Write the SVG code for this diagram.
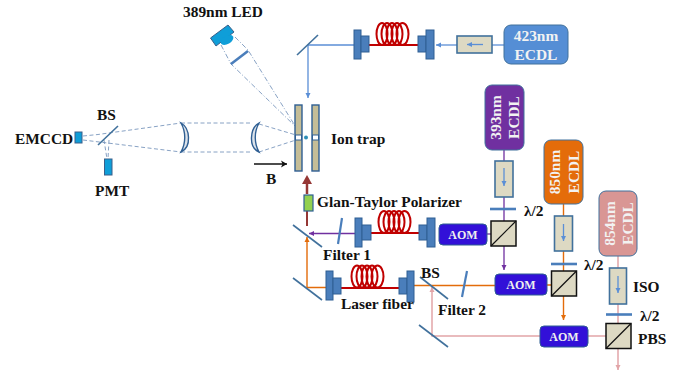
<svg xmlns="http://www.w3.org/2000/svg" width="685" height="375" viewBox="0 0 685 375">
<style>
text{font-family:"Liberation Serif","Times New Roman",serif;font-weight:bold;font-size:15.400px;fill:#111}
.aomt{fill:#eee;font-size:12px}
.ecdl{font-size:15.400px;fill:#f2f2f2}
.mir{stroke:#41719c;stroke-width:1.600;fill:none}
.blue{fill:#0f9ed8;stroke:#3a5f8a;stroke-width:1}
.big{fill:#4a7ebb;stroke:#2f5f93;stroke-width:1}
.iso{fill:#ddd9c3;stroke:#41719c;stroke-width:1.600}
.pbs{fill:#ddd9c3;stroke:#111;stroke-width:1.500}
.aom{fill:#3210d8;stroke:#2f5f93;stroke-width:1}
.plate{fill:#c4bd97;stroke:#2f5f93;stroke-width:1.400}
.lp{stroke:#4a7ebb;stroke-width:2.600;fill:none}
.dash{stroke:#7a97bd;stroke-width:.9;fill:none;stroke-dasharray:4 2.500}
.dd{stroke:#7a97bd;stroke-width:.9;fill:none;stroke-dasharray:5 2 1 2}
.coil{stroke:#c00000;stroke-width:2;fill:none}
.lens{fill:#dde3ea;stroke:#2f5f93;stroke-width:1.400}
.b{stroke:#5b8fd6;stroke-width:1.300;fill:none}
.pu{stroke:#7030a0;stroke-width:1.300;fill:none}
.or{stroke:#e36c0a;stroke-width:1.400;fill:none}
.pk{stroke:#e2a5a8;stroke-width:1.500;fill:none}
</style>
<defs>
<marker id="ab" markerUnits="userSpaceOnUse" markerWidth="6" markerHeight="6" refX="5" refY="3" orient="auto"><path d="M0 .5L5 3L0 5.500z" fill="#5b8fd6"/></marker>
<marker id="ap" markerUnits="userSpaceOnUse" markerWidth="6" markerHeight="6" refX="5" refY="3" orient="auto"><path d="M0 .5L5 3L0 5.500z" fill="#7030a0"/></marker>
<marker id="ao" markerUnits="userSpaceOnUse" markerWidth="6" markerHeight="6" refX="5" refY="3" orient="auto"><path d="M0 .5L5 3L0 5.500z" fill="#e36c0a"/></marker>
<marker id="ak" markerUnits="userSpaceOnUse" markerWidth="6" markerHeight="6" refX="5" refY="3" orient="auto"><path d="M0 .5L5 3L0 5.500z" fill="#e2a5a8"/></marker>
<marker id="an" markerUnits="userSpaceOnUse" markerWidth="7" markerHeight="8" refX="6" refY="4" orient="auto"><path d="M0 .5L6 4L0 7.500L1.500 4z" fill="#111"/></marker>
<g id="coil"><ellipse cx="6" cy="11" rx="5.500" ry="11"/><ellipse cx="11" cy="11" rx="5.500" ry="11"/><ellipse cx="16" cy="11" rx="5.500" ry="11"/><ellipse cx="21" cy="11" rx="5.500" ry="11"/><ellipse cx="26.500" cy="11" rx="6" ry="11"/></g>
</defs>

<g id="connectors">
<path class="dash" d="M83 136L98 134.500L181 123M83 140L181 152M181 123H250M181 152H250M259 124L296 135M259 152L296 140M104 140L107 159M109 140L108 159"/>
<path class="dd" d="M221 45L231 64L297 128M235 37L248 50L302 137"/>
<path class="b" d="M504 45H492"/>
<path class="b" d="M457 45H436" marker-end="url(#ab)"/>
<path class="b" d="M354 45H308V98" marker-end="url(#ab)"/>
<path class="pu" d="M504 150V161M504 197V221"/>
<path class="pu" d="M504 246V270" marker-end="url(#ap)"/>
<path class="pu" d="M487 234H491"/>
<path class="pu" d="M355 233.500H309" marker-end="url(#ap)"/>
<path class="or" d="M563.500 204V216M563.500 251V271M547 285H551M495 285.500H414"/>
<path class="or" d="M563.500 296V320" marker-end="url(#ao)"/>
<path class="or" d="M326 287.500H307V237" marker-end="url(#ao)"/>
<path class="pk" d="M618 256V268M618 304V323M606 336H588"/>
<path class="pk" d="M618 348V370" marker-end="url(#ak)"/>
<path class="pk" d="M540 336H432V287" marker-end="url(#ak)"/>
<path stroke="#953735" stroke-width="2" fill="none" d="M307 226V211"/>
<path stroke="#953735" stroke-width="2.500" fill="none" d="M307 194V183"/>
<path fill="#953735" d="M307 175L312 184H302z"/>
<path stroke="#c00000" stroke-width="2" fill="none" d="M369 45H418M371 233H419M341 288H399"/>
<path stroke="#111" stroke-width="1.500" fill="none" d="M254 164H287" marker-end="url(#an)"/>
</g>

<g id="emccd"><rect class="blue" x="75" y="132" width="7" height="11"/><text x="15" y="144">EMCCD</text></g>
<g id="bs1"><path class="mir" d="M98 145L118 126"/><text x="97" y="120">BS</text></g>
<g id="pmt"><rect class="blue" x="104.500" y="159" width="7.500" height="16"/><text x="95" y="196">PMT</text></g>
<g id="lens1"><path class="lens" d="M181 123C190 128 192 147 181 152C186 143 186 132 181 123z"/></g>
<g id="lens2"><path class="lens" d="M259 123C250 128 248 147 259 152C254 143 254 132 259 123z"/></g>
<g id="ion-trap">
<rect class="plate" x="295" y="105" width="7" height="66"/><rect class="plate" x="312" y="105" width="7" height="66"/>
<rect x="295.500" y="135" width="6" height="5" fill="#fff" stroke="#2f5f93"/><rect x="312.500" y="135" width="6" height="5" fill="#fff" stroke="#2f5f93"/>
<circle cx="306" cy="137.500" r="2" fill="#2e8fb8"/>
<text x="331" y="144">Ion trap</text>
</g>
<g id="field-b"><text x="266" y="184">B</text></g>
<g id="led">
<path class="blue" d="M210.500 38L228 25L234 32L216 46z"/>
<ellipse cx="227" cy="40" rx="7" ry="4" transform="rotate(-30 227 40)" fill="#0f9ed8"/>
<path d="M231 64L248 51" stroke="#4a7ebb" stroke-width="2.600"/>
<text x="183" y="17">389nm LED</text>
</g>
<g id="mirror-top"><path class="mir" d="M297 55L318 35"/></g>
<g id="fiber-423">
<rect class="big" x="354" y="30" width="7" height="29"/><rect class="big" x="361" y="36" width="8" height="16"/>
<use href="#coil" x="376" y="23" class="coil"/>
<rect class="big" x="418" y="36" width="8" height="16"/><rect class="big" x="426" y="30" width="8" height="29"/>
</g>
<g id="iso-423"><rect class="iso" x="457" y="36" width="35" height="17"/><path class="b" d="M483 44.500H467" marker-end="url(#ab)"/></g>
<g id="ecdl-423"><rect x="504" y="25" width="64" height="39" rx="7" fill="#558ed5" stroke="#41719c"/><text class="ecdl" x="536" y="41" text-anchor="middle">423nm</text><text class="ecdl" x="536" y="60" text-anchor="middle">ECDL</text></g>

<g id="ecdl-393"><rect x="485" y="85" width="39" height="65" rx="7" fill="#7030a0" stroke="#41719c"/><text class="ecdl" transform="translate(501 117.500) rotate(-90)" text-anchor="middle">393nm</text><text class="ecdl" transform="translate(519 117.500) rotate(-90)" text-anchor="middle">ECDL</text></g>
<g id="iso-393"><rect class="iso" x="495" y="161" width="18" height="36"/><path class="b" d="M504 168V186" marker-end="url(#ab)"/></g>
<g id="hwp-393"><path class="lp" d="M490 209H516"/><text x="524" y="216">λ/2</text></g>
<g id="pbs-393"><rect class="pbs" x="491" y="221" width="25" height="25"/><path stroke="#111" stroke-width="1.200" d="M491 246L516 221"/></g>
<g id="aom-393"><rect class="aom" x="439" y="224" width="48" height="21" rx="4"/><text class="aomt" x="463" y="238.500" text-anchor="middle">AOM</text></g>

<g id="ecdl-850"><rect x="544" y="140" width="39" height="64" rx="7" fill="#e46c0a" stroke="#41719c"/><text class="ecdl" transform="translate(560 172) rotate(-90)" text-anchor="middle">850nm</text><text class="ecdl" transform="translate(579 172) rotate(-90)" text-anchor="middle">ECDL</text></g>
<g id="iso-850"><rect class="iso" x="554.500" y="216" width="18" height="35"/><path class="b" d="M563.500 224V241" marker-end="url(#ab)"/></g>
<g id="hwp-850"><path class="lp" d="M551 264H577"/><text x="584" y="270">λ/2</text></g>
<g id="pbs-850"><rect class="pbs" x="551.500" y="271" width="25" height="25"/><path stroke="#111" stroke-width="1.200" d="M551.500 296L576.500 271"/></g>
<g id="aom-850"><rect class="aom" x="495" y="274" width="52" height="21" rx="4"/><text class="aomt" x="521" y="289" text-anchor="middle">AOM</text></g>

<g id="ecdl-854"><rect x="599" y="191" width="38" height="65" rx="7" fill="#d99694" stroke="#41719c"/><text class="ecdl" transform="translate(615 223.500) rotate(-90)" text-anchor="middle">854nm</text><text class="ecdl" transform="translate(633 223.500) rotate(-90)" text-anchor="middle">ECDL</text></g>
<g id="iso-854"><rect class="iso" x="609.500" y="268" width="17" height="36"/><path class="b" d="M618 276V293" marker-end="url(#ab)"/><text x="633" y="292">ISO</text></g>
<g id="hwp-854"><path class="lp" d="M606 314.500H632"/><text x="640" y="321">λ/2</text></g>
<g id="pbs-854"><rect class="pbs" x="606" y="323.500" width="25" height="25"/><path stroke="#111" stroke-width="1.200" d="M606 348.500L631 323.500"/><text x="638" y="344">PBS</text></g>
<g id="aom-854"><rect class="aom" x="540" y="326" width="48" height="21" rx="4"/><text class="aomt" x="564" y="341" text-anchor="middle">AOM</text></g>

<g id="polarizer"><rect x="304" y="195" width="9" height="16" fill="#92d050" stroke="#2f5f93" stroke-width="1.200"/><text x="317" y="207">Glan-Taylor Polarizer</text></g>
<g id="mirror-upper"><path class="mir" d="M293 225L322 247"/></g>
<g id="mirror-lower"><path class="mir" d="M293 278L322 300"/></g>
<g id="filter-1"><path stroke="#4a7ebb" stroke-width="2.200" d="M342 218L338 244"/><text x="323" y="260">Filter 1</text></g>
<g id="fiber-upper">
<rect class="big" x="355" y="218" width="7" height="29"/><rect class="big" x="362" y="225" width="9" height="15"/>
<use href="#coil" x="378" y="211" class="coil"/>
<rect class="big" x="419" y="225" width="8" height="15"/><rect class="big" x="427" y="218" width="8" height="29"/>
</g>
<g id="laser-fiber">
<rect class="big" x="326" y="271" width="7" height="29"/><rect class="big" x="333" y="278" width="8" height="16"/>
<use href="#coil" x="351" y="265.500" class="coil"/>
<rect class="big" x="399" y="278" width="8" height="16"/><rect class="big" x="407" y="271" width="7" height="31"/>
<text x="341" y="309">Laser fiber</text>
</g>
<g id="bs2"><path class="mir" d="M420 277L448 299"/><text x="421" y="278">BS</text></g>
<g id="mirror-pink"><path class="mir" d="M419 325L448 347"/></g>
<g id="filter-2"><path stroke="#4a7ebb" stroke-width="2.200" d="M467 271L462 297"/><text x="438" y="315">Filter 2</text></g>
</svg>
